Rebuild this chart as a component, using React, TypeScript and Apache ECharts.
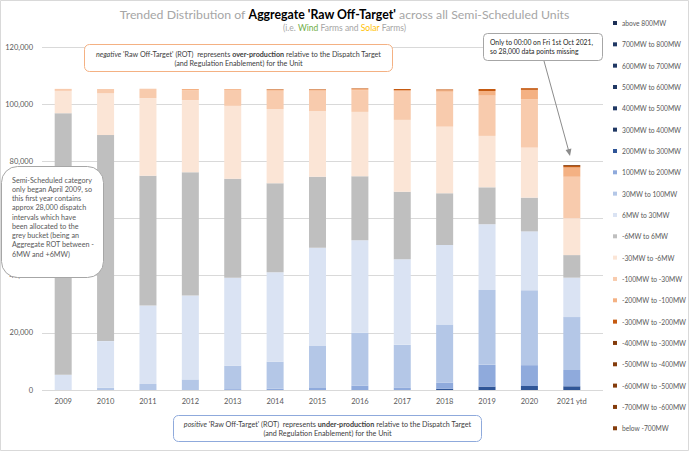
import React, { useEffect, useRef } from 'react';
import * as echarts from 'echarts';

const categories = ['2009', '2010', '2011', '2012', '2013', '2014', '2015', '2016', '2017', '2018', '2019', '2020', '2021 ytd'];

const seriesNames = [
  'above 800MW', '700MW to 800MW', '600MW to 700MW', '500MW to 600MW', '400MW to 500MW',
  '300MW to 400MW', '200MW to 300MW', '100MW to 200MW', '30MW to 100MW', '6MW to 30MW',
  '-6MW to 6MW', '-30MW to -6MW', '-100MW to -30MW', '-200MW to -100MW', '-300MW to -200MW',
  '-400MW to -300MW', '-500MW to -400MW', '-600MW to -500MW', '-700MW to -600MW', 'below -700MW',
];

const seriesColors = [
  '#1c2f55', '#203864', '#203864', '#203864', '#203864',
  '#203864', '#2f5597', '#8faadc', '#b4c7e7', '#dae3f3',
  '#bfbfbf', '#fbe5d6', '#f8cbad', '#f4b183', '#c55a11',
  '#843c0c', '#843c0c', '#843c0c', '#843c0c', '#843c0c',
];

// Counts of dispatch intervals per year, stacked from "above 800MW" (bottom) to "below -700MW" (top)
const above800 = [0, 0, 0, 0, 0, 0, 0, 0, 0, 0, 0, 0, 0];
const mw700to800 = [0, 0, 0, 0, 0, 0, 0, 0, 0, 0, 0, 0, 0];
const mw600to700 = [0, 0, 0, 0, 0, 0, 0, 0, 0, 0, 0, 0, 0];
const mw500to600 = [0, 0, 0, 0, 0, 0, 0, 0, 0, 0, 0, 0, 0];
const mw400to500 = [0, 0, 0, 0, 0, 0, 0, 0, 0, 0, 0, 0, 0];
const mw300to400 = [0, 0, 0, 0, 0, 0, 0, 0, 0, 0, 0, 0, 0];
const mw200to300 = [0, 0, 0, 0, 0, 0, 0, 0, 0, 450, 1200, 1400, 1300];
const mw100to200 = [0, 0, 0, 0, 300, 500, 700, 1500, 900, 2100, 7600, 7300, 5700];
const mw30to100 = [0, 800, 2100, 3700, 8200, 9400, 14700, 18500, 14900, 20400, 26200, 26200, 18500];
const mw6to30 = [5350, 16300, 27500, 29400, 30800, 31300, 34400, 32400, 29900, 27800, 23000, 20600, 13800];
const mwNeg6to6 = [91500, 72100, 45400, 43100, 34600, 31100, 24800, 22400, 23700, 18100, 12900, 11800, 7900];
const neg30toNeg6 = [7800, 14600, 27100, 25200, 25500, 26000, 23000, 22500, 25100, 23300, 18000, 17500, 12900];
const neg100toNeg30 = [700, 1500, 3300, 3500, 5600, 6400, 7100, 7600, 10100, 12200, 14100, 16900, 14500];
const neg200toNeg100 = [0, 0, 0, 400, 300, 300, 300, 400, 300, 500, 1600, 3300, 3300];
const neg300toNeg200 = [0, 0, 0, 0, 0, 200, 200, 200, 400, 300, 700, 600, 500];
const neg400toNeg300 = [0, 0, 0, 0, 0, 0, 0, 0, 0, 0, 0, 0, 300];
const neg500toNeg400 = [0, 0, 0, 0, 0, 0, 0, 0, 0, 0, 0, 0, 0];
const neg600toNeg500 = [0, 0, 0, 0, 0, 0, 0, 0, 0, 0, 0, 0, 0];
const neg700toNeg600 = [0, 0, 0, 0, 0, 0, 0, 0, 0, 0, 0, 0, 0];
const belowNeg700 = [0, 0, 0, 0, 0, 0, 0, 0, 0, 0, 0, 0, 0];

const seriesValues = [
  above800, mw700to800, mw600to700, mw500to600, mw400to500,
  mw300to400, mw200to300, mw100to200, mw30to100, mw6to30,
  mwNeg6to6, neg30toNeg6, neg100toNeg30, neg200toNeg100, neg300toNeg200,
  neg400toNeg300, neg500toNeg400, neg600toNeg500, neg700toNeg600, belowNeg700,
];

// y-axis tick labels hidden behind the 2009 note box in the reference
const hiddenTickLabels = [60000];

const FONT = 'Lato, "Noto Sans", sans-serif';
const TXT = '#595959';
const NOTE = '#404040';

export default function App() {
  const ref = useRef<HTMLDivElement>(null);

  useEffect(() => {
    document.body.style.margin = '0';
    if (!ref.current) return;
    const chart = echarts.init(ref.current, null, { renderer: 'svg' });

    const series = seriesNames.map((name, i) => ({
      name,
      type: 'bar',
      stack: 'total',
      barWidth: 17,
      xAxisIndex: 0,
      yAxisIndex: 0,
      data: seriesValues[i],
      itemStyle: { color: seriesColors[i] },
      emphasis: { disabled: true },
    }));

    const NS = 7.2;
    const noteRich = {
      i: { fontStyle: 'italic', fontSize: NS, fontFamily: FONT, fill: NOTE, color: NOTE, lineHeight: 9 },
      b: { fontWeight: 'bold', fontSize: NS, fontFamily: FONT, fill: NOTE, color: NOTE, lineHeight: 9 },
      n: { fontSize: NS, fontFamily: FONT, fill: NOTE, color: NOTE, lineHeight: 9 },
    };
    const TS = 12.3;

    chart.setOption({
      animation: false,
      backgroundColor: '#ffffff',
      textStyle: { fontFamily: FONT },
      legend: {
        orient: 'vertical',
        left: 608,
        top: 13,
        itemWidth: 4,
        itemHeight: 4,
        itemGap: 11.33,
        icon: 'rect',
        selectedMode: false,
        data: seriesNames,
        textStyle: { fontSize: 6.7, color: TXT, fontFamily: FONT, lineHeight: 10 },
      },
      grid: [
        { left: 42, right: 96, top: 47, bottom: 61 },
        { left: 42, right: 86, top: 47, bottom: 61 },
      ],
      xAxis: [
        {
          type: 'category',
          gridIndex: 0,
          data: categories,
          axisLine: { show: false },
          axisTick: { show: false },
          axisLabel: { color: TXT, fontSize: 7.5, fontFamily: FONT, margin: 7 },
        },
        { type: 'value', gridIndex: 1, show: false, min: 0, max: 1 },
      ],
      yAxis: [
        {
          type: 'value',
          gridIndex: 0,
          min: 0,
          max: 120000,
          interval: 20000,
          splitLine: { show: false },
          axisLine: { show: false },
          axisTick: { show: false },
          axisLabel: {
            color: TXT,
            fontSize: 7.5,
            fontFamily: FONT,
            margin: 9,
            formatter: (v: number) => (hiddenTickLabels.includes(v) ? '' : v.toLocaleString('en-US')),
          },
        },
        {
          type: 'value',
          gridIndex: 1,
          min: 0,
          max: 120000,
          interval: 20000,
          axisLine: { show: false },
          axisTick: { show: false },
          axisLabel: { show: false },
          splitLine: { show: true, lineStyle: { color: '#d9d9d9', width: 1 } },
        },
      ],
      series,
      graphic: [
        {
          type: 'rect', silent: true, z: 100,
          shape: { x: 0.5, y: 0.5, width: 688, height: 450 },
          style: { fill: 'none', stroke: '#d9d9d9', lineWidth: 1 },
        },
        // title
        {
          type: 'text', silent: true, z: 101, x: 344.5, y: 14,
          style: {
            text: "{g|Trended Distribution of }{b|Aggregate 'Raw Off-Target'}{g| across all Semi-Scheduled Units}",
            align: 'center', verticalAlign: 'middle',
            fontSize: TS, fontFamily: FONT, fill: '#a6a6a6',
            rich: {
              g: { fontSize: TS, fontFamily: FONT, fill: '#a6a6a6', color: '#a6a6a6' },
              b: { fontSize: TS, fontFamily: FONT, fill: '#000000', color: '#000000', fontWeight: 'bold' },
            },
          },
        },
        {
          type: 'text', silent: true, z: 101, x: 344.5, y: 28,
          style: {
            text: '{g|(i.e. }{w|Wind}{g| Farms and }{s|Solar}{g| Farms)}',
            align: 'center', verticalAlign: 'middle',
            fontSize: 8.5, fontFamily: FONT, fill: '#a6a6a6',
            rich: {
              g: { fontSize: 8.5, fontFamily: FONT, fill: '#a6a6a6', color: '#a6a6a6' },
              w: { fontSize: 8.5, fontFamily: FONT, fill: '#70ad47', color: '#70ad47' },
              s: { fontSize: 8.5, fontFamily: FONT, fill: '#ffc000', color: '#ffc000' },
            },
          },
        },
        // negative ROT note
        {
          type: 'rect', silent: true, z: 100,
          shape: { x: 84.5, y: 44.5, width: 308, height: 27, r: 5 },
          style: { fill: '#ffffff', stroke: '#f4b183', lineWidth: 1 },
        },
        {
          type: 'text', silent: true, z: 101, x: 238.5, y: 58.5,
          style: {
            text: "{i|negative}{n| 'Raw Off-Target' (ROT)  represents }{b|over-production}{n| relative to the Dispatch Target}\n{n|(and Regulation Enablement) for the Unit}",
            align: 'center', verticalAlign: 'middle',
            fontSize: NS, fontFamily: FONT, fill: NOTE, lineHeight: 9,
            rich: noteRich,
          },
        },
        // positive ROT note
        {
          type: 'rect', silent: true, z: 100,
          shape: { x: 173.5, y: 415.5, width: 308, height: 26, r: 5 },
          style: { fill: '#ffffff', stroke: '#8faadc', lineWidth: 1 },
        },
        {
          type: 'text', silent: true, z: 101, x: 327.5, y: 428.5,
          style: {
            text: "{i|positive}{n| 'Raw Off-Target' (ROT)  represents }{b|under-production}{n| relative to the Dispatch Target}\n{n|(and Regulation Enablement) for the Unit}",
            align: 'center', verticalAlign: 'middle',
            fontSize: NS, fontFamily: FONT, fill: NOTE, lineHeight: 9,
            rich: noteRich,
          },
        },
        // 2021 note
        {
          type: 'rect', silent: true, z: 100,
          shape: { x: 483.5, y: 33.5, width: 119, height: 27, r: 4 },
          style: { fill: '#ffffff', stroke: '#a6a6a6', lineWidth: 1 },
        },
        {
          type: 'text', silent: true, z: 101, x: 490, y: 46.5,
          style: {
            text: 'Only to 00:00 on Fri 1st Oct 2021,\nso 28,000 data points missing',
            align: 'left', verticalAlign: 'middle',
            fontSize: 6.8, fontFamily: FONT, fill: '#262626', lineHeight: 9,
          },
        },
        {
          type: 'line', silent: true, z: 100,
          shape: { x1: 544, y1: 61, x2: 568.6, y2: 150.5 },
          style: { stroke: '#8c8c8c', lineWidth: 1 },
        },
        {
          type: 'polygon', silent: true, z: 100,
          shape: { points: [[570, 156], [571.4, 148.4], [565.6, 150]] },
          style: { fill: '#8c8c8c' },
        },
        // 2009 note
        {
          type: 'rect', silent: true, z: 100,
          shape: { x: 1.5, y: 166.5, width: 102, height: 111, r: 16 },
          style: { fill: '#ffffff', stroke: '#a6a6a6', lineWidth: 1 },
        },
        {
          type: 'text', silent: true, z: 101, x: 12, y: 217,
          style: {
            text: 'Semi-Scheduled category\nonly began April 2009, so\nthis first year contains\napprox 28,000 dispatch\nintervals which have\nbeen allocated to the\ngrey bucket (being an\nAggregate ROT between -\n6MW and +6MW)',
            align: 'left', verticalAlign: 'middle',
            fontSize: 7.2, fontFamily: FONT, fill: '#595959', lineHeight: 9.25,
          },
        },
      ],
    });

    return () => chart.dispose();
  }, []);

  return <div ref={ref} style={{ width: 689, height: 451 }} />;
}
